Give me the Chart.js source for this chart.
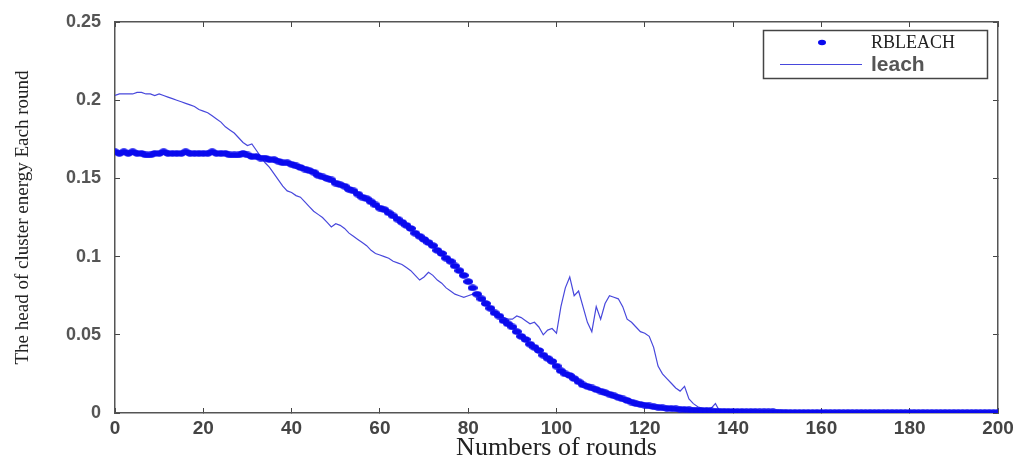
<!DOCTYPE html>
<html>
<head>
<meta charset="utf-8">
<script src="https://cdn.jsdelivr.net/npm/chart.js@4.4.1/dist/chart.umd.min.js"></script>
<style>
  html, body { margin: 0; padding: 0; background: #fff; }
  #wrap { width: 1024px; height: 459px; position: relative; }
</style>
</head>
<body>
<div id="wrap"><canvas id="myChart"></canvas></div>
<script>
// values, one per round (0..200)
var rbleach = [
  0.167,0.166,0.167,0.166,0.167,0.166,0.166,0.165,0.165,0.166,
  0.166,0.167,0.166,0.166,0.166,0.166,0.167,0.166,0.166,0.166,
  0.166,0.166,0.167,0.166,0.166,0.166,0.165,0.165,0.165,0.166,
  0.165,
  0.164,0.164,0.163,0.163,0.162,0.162,0.161,0.160,0.160,0.159,
  0.158,0.157,0.156,0.155,0.154,0.152,0.151,0.150,0.149,0.147,
  0.146,0.145,0.143,0.142,0.140,0.138,0.137,0.135,0.133,0.131,
  0.130,0.128,0.126,0.124,0.122,0.120,0.118,0.115,0.113,0.111,
  0.109,0.107,0.104,0.102,0.099,0.097,0.094,0.091,0.088,0.084,
  0.080,0.076,0.073,0.070,0.067,0.064,0.062,0.059,0.057,0.055,
  0.052,0.049,0.047,0.044,0.042,0.040,0.037,0.035,0.033,0.030,
  0.027,0.025,0.024,0.022,0.020,0.018,0.017,0.016,0.015,0.014,
  0.013,0.012,0.011,0.010,0.009,0.008,0.007,0.006,0.0055,0.005,
  0.0045,0.004,0.0037,0.0033,0.003,0.0028,0.0026,0.0024,0.0022,0.002,
  0.0019,0.0018,0.0016,0.0015,0.0013,0.0012,0.0011,0.0011,0.001,0.001,
  0.0009,0.0009,0.0008,0.0008,0.0008,0.0007,0.0007,0.0007,0.0007,0.0006,
  0.0005,0.0004,0.0003,0.0003,0.0003,0.0003,0.0003,0.0003,0.0003,0.0003,
  0.0002,0.0002,0.0002,0.0002,0.0002,0.0002,0.0002,0.0002,0.0002,0.0002,
  0.0002,0.0002,0.0002,0.0002,0.0002,0.0002,0.0002,0.0002,0.0002,0.0002,
  0.0002,0.0002,0.0002,0.0002,0.0002,0.0002,0.0002,0.0002,0.0002,0.0002,
  0.0002,0.0002,0.0002,0.0002,0.0002,0.0002,0.0002,0.0002,0.0002,0.0002
];
// leach runs out around round 138
var leach = [
  0.203,0.204,0.204,0.204,0.204,0.205,0.205,0.204,0.204,0.203,
  0.204,0.203,0.202,0.201,0.200,0.199,0.198,0.197,0.196,0.194,
  0.193,0.192,0.190,0.188,0.186,0.183,0.181,0.179,0.176,0.173,
  0.171,0.172,0.168,0.164,0.160,0.157,0.153,0.149,0.145,0.142,
  0.141,0.139,0.138,0.135,0.132,0.129,0.127,0.125,0.122,0.119,
  0.121,0.120,0.118,0.115,0.113,0.111,0.109,0.107,0.104,0.102,
  0.101,0.100,0.099,0.097,0.096,0.095,0.093,0.091,0.088,0.085,
  0.087,0.090,0.088,0.085,0.083,0.080,0.078,0.076,0.075,0.074,
  0.075,0.076,0.075,0.073,0.071,0.068,0.065,0.063,0.061,0.060,
  0.060,0.062,0.061,0.059,0.057,0.058,0.055,0.050,0.053,0.054,
  0.051,0.068,0.080,0.087,0.075,0.078,0.068,0.058,0.052,0.068,
  0.060,0.070,0.075,0.074,0.073,0.068,0.060,0.058,0.055,0.052,
  0.051,0.049,0.042,0.030,0.025,0.022,0.019,0.016,0.014,0.017,
  0.009,0.006,0.004,0.003,0.003,0.003,0.006,0.001,0
];
var xTicks = [0, 200, 20];      // min, max, step
var yTicks = [0, 0.25, 0.05];
var seriesNames = ['RBLEACH', 'leach'];
var xlabel = 'Numbers of rounds';
var ylabel = 'The head of cluster energy Each round';

function toPoints(arr) {
    return arr.map(function (v, i) { return { x: i, y: v }; });
}

// the '.' markers look squashed into little dashes in the picture
var dotColor = '#0a0aee';
var dash = document.createElement('canvas');
dash.width = 10; dash.height = 7;
(function () {
    var c = dash.getContext('2d');
    c.fillStyle = dotColor;
    c.beginPath();
    c.ellipse(5, 3.5, 5, 3.3, 0, 0, Math.PI * 2);
    c.fill();
})();

// legend drawn inside the plot box, MATLAB style
var boxLegend = {
    id: 'boxLegend',
    afterDraw: function (chart) {
        var ctx = chart.ctx;
        var ds = chart.data.datasets;
        ctx.save();
        ctx.strokeStyle = '#444';
        ctx.lineWidth = 1.5;
        ctx.strokeRect(763.5, 30.5, 224, 48);
        // marker for RBLEACH
        ctx.fillStyle = dotColor;
        ctx.beginPath();
        ctx.ellipse(822, 42.5, 4, 2.8, 0, 0, Math.PI * 2);
        ctx.fill();
        ctx.fillStyle = '#222';
        ctx.font = '18px "Liberation Serif"';
        ctx.textBaseline = 'middle';
        ctx.fillText(ds[0].label, 871, 43);
        // line for leach
        ctx.strokeStyle = ds[1].borderColor;
        ctx.lineWidth = 1.2;
        ctx.beginPath();
        ctx.moveTo(780, 64.5);
        ctx.lineTo(862, 64.5);
        ctx.stroke();
        ctx.fillStyle = '#555';
        ctx.font = 'bold 21px "Liberation Sans"';
        ctx.fillText(ds[1].label, 871, 65);
        ctx.restore();
    }
};

var tickFmt = function (v) { return String(+Number(v).toFixed(2)); };

// fixed box sizes so the plot area lands where it is in the picture
function fixH(h) {
    return function (s) { s.height = h; s.paddingLeft = 0; s.paddingRight = 0; };
}
function fixW(w) {
    return function (s) { s.width = w; s.paddingTop = 0; s.paddingBottom = 0; };
}

var config = {
    type: 'line',
    data: {
        datasets: [{
            label: seriesNames[0],
            data: toPoints(rbleach),
            showLine: false,
            pointStyle: dash,
            pointRadius: 4,
            borderColor: dotColor,
            backgroundColor: dotColor,
            xAxisID: 'x',
            yAxisID: 'y'
        }, {
            label: seriesNames[1],
            data: toPoints(leach),
            borderColor: '#4848dc',
            borderWidth: 1.2,
            pointRadius: 0,
            tension: 0,
            xAxisID: 'x',
            yAxisID: 'y'
        }]
    },
    options: {
        responsive: true,
        maintainAspectRatio: false,
        animation: false,
        layout: { padding: 0 },
        plugins: {
            legend: { display: false },
            tooltip: { enabled: false }
        },
        scales: {
            x: {
                type: 'linear',
                position: 'bottom',
                min: xTicks[0], max: xTicks[1],
                afterFit: fixH(46),
                border: { color: '#555', width: 1.5 },
                grid: { drawOnChartArea: false, tickLength: -5, color: '#444' },
                ticks: {
                    stepSize: xTicks[2],
                    padding: 9,
                    maxRotation: 0,
                    color: '#444',
                    font: { family: '"Liberation Sans"', size: 19, weight: 'bold' }
                },
                title: {
                    display: true,
                    text: xlabel,
                    color: '#222',
                    padding: { top: 0, bottom: -2 },
                    font: { family: '"Liberation Serif"', size: 26, lineHeight: 1 }
                }
            },
            x2: {
                type: 'linear',
                position: 'top',
                min: xTicks[0], max: xTicks[1],
                afterFit: fixH(22),
                border: { color: '#555', width: 1.5 },
                grid: { drawOnChartArea: false, tickLength: -5, color: '#444' },
                ticks: { stepSize: xTicks[2], display: false }
            },
            y: {
                type: 'linear',
                position: 'left',
                min: yTicks[0], max: yTicks[1],
                afterFit: fixW(115),
                border: { color: '#555', width: 1.5 },
                grid: { drawOnChartArea: false, tickLength: -5, color: '#444' },
                ticks: {
                    stepSize: yTicks[2],
                    padding: 19,
                    color: '#555',
                    callback: tickFmt,
                    font: { family: '"Liberation Sans"', size: 18, weight: 'bold' }
                },
                title: {
                    display: true,
                    text: ylabel,
                    color: '#222',
                    padding: { top: 12, bottom: 0 },
                    font: { family: '"Liberation Serif"', size: 19 }
                }
            },
            y2: {
                type: 'linear',
                position: 'right',
                min: yTicks[0], max: yTicks[1],
                afterFit: fixW(26),
                border: { color: '#555', width: 1.5 },
                grid: { drawOnChartArea: false, tickLength: -5, color: '#444' },
                ticks: { stepSize: yTicks[2], display: false }
            }
        }
    },
    plugins: [boxLegend]
};

var myChart = new Chart(document.getElementById('myChart'), config);
</script>
</body>
</html>
